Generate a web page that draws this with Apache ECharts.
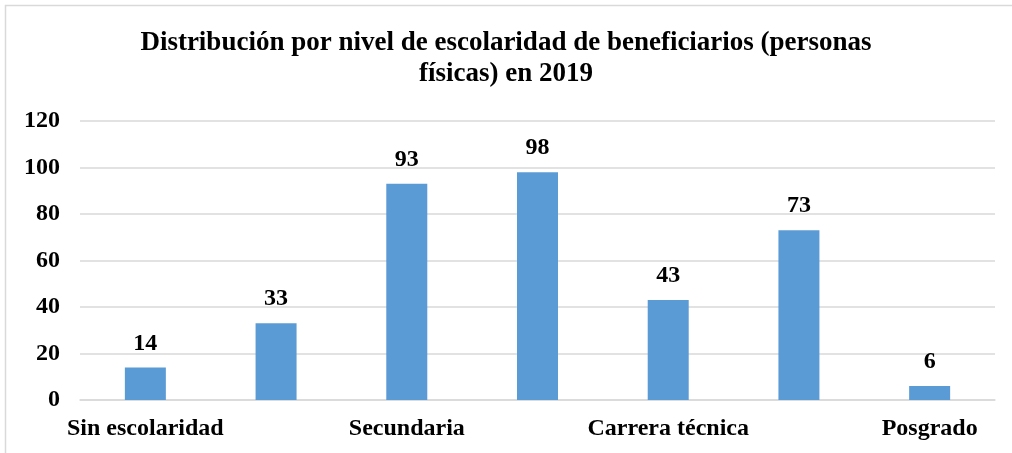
<!DOCTYPE html>
<html>
<head>
<meta charset="utf-8">
<script src="https://cdn.jsdelivr.net/npm/echarts@6/dist/echarts.min.js"></script>
<style>
  html, body { margin: 0; padding: 0; background: #fff; }
  #chart { width: 1012px; height: 453px; }
</style>
</head>
<body>
<div id="chart"></div>
<script>
// datos
const categorias = ["Sin escolaridad", "Primaria", "Secundaria", "Preparatoria", "Carrera técnica", "Licenciatura", "Posgrado"];
const valores = [14, 33, 93, 98, 43, 73, 6];
const ticksY = [0, 20, 40, 60, 80, 100, 120];

const fuente = "'Liberation Serif', 'DejaVu Serif', serif";

const chart = echarts.init(document.getElementById("chart"));
chart.setOption({
  animation: false,
  graphic: [{
    type: "rect",
    shape: { x: 5.5, y: 5.5, width: 1020, height: 460 },
    style: { fill: "none", stroke: "#d9d9d9", lineWidth: 1.5 },
    silent: true
  }],
  title: {
    text: "Distribución por nivel de escolaridad de beneficiarios (personas\nfísicas) en 2019",
    left: "center",
    top: 23,
    textStyle: {
      fontFamily: fuente,
      fontWeight: "bold",
      fontSize: 27,
      lineHeight: 31,
      color: "#000"
    }
  },
  grid: { left: 80, right: 17, top: 121, bottom: 53 },
  xAxis: {
    type: "category",
    data: categorias,
    axisLine: { lineStyle: { color: "#d9d9d9", width: 1.5 } },
    axisTick: { show: false },
    axisLabel: {
      interval: 1,
      margin: 17,
      fontFamily: fuente,
      fontWeight: "bold",
      fontSize: 24,
      color: "#000"
    }
  },
  yAxis: {
    type: "value",
    min: ticksY[0],
    max: ticksY[ticksY.length - 1],
    interval: 20,
    axisLine: { show: false },
    axisTick: { show: false },
    splitLine: { lineStyle: { color: "#d9d9d9", width: 1.5 } },
    axisLabel: {
      margin: 20,
      fontFamily: fuente,
      fontWeight: "bold",
      fontSize: 24,
      color: "#000"
    }
  },
  series: [{
    type: "bar",
    data: valores,
    barWidth: 41,
    itemStyle: { color: "#5b9bd5" },
    label: {
      show: true,
      position: "top",
      distance: 12,
      fontFamily: fuente,
      fontWeight: "bold",
      fontSize: 24,
      color: "#000"
    }
  }]
});
</script>
</body>
</html>
